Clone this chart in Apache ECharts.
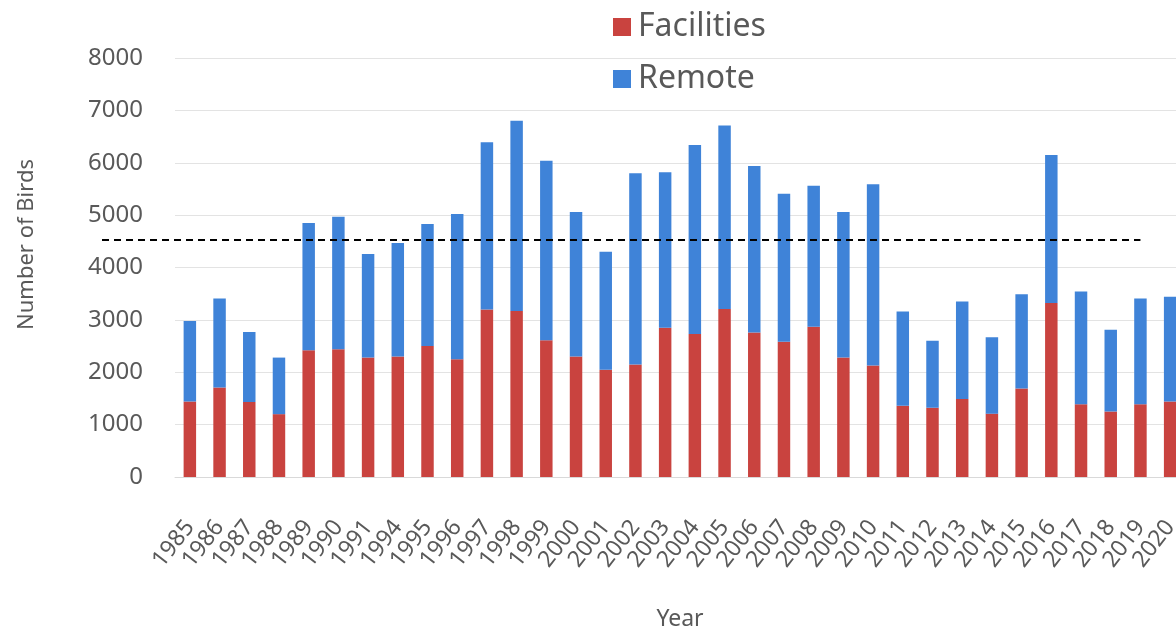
<!DOCTYPE html>
<html>
<head>
<meta charset="utf-8">
<script src="https://cdn.jsdelivr.net/npm/echarts@6/dist/echarts.min.js"></script>
<style>
html,body{margin:0;padding:0;background:#fff;}
#chart{width:1176px;height:631px;}
</style>
</head>
<body>
<div id="chart"></div>
<script>
const years = ['1985','1986','1987','1988','1989','1990','1991','1994','1995','1996','1997','1998','1999','2000','2001','2002','2003','2004','2005','2006','2007','2008','2009','2010','2011','2012','2013','2014','2015','2016','2017','2018','2019','2020'];
const facilities = [1440,1710,1430,1200,2420,2440,2280,2300,2500,2250,3200,3170,2610,2300,2050,2150,2850,2730,3210,2760,2580,2870,2280,2130,1360,1320,1490,1210,1690,3320,1390,1250,1390,1440];
const remote = [1540,1700,1340,1080,2430,2530,1980,2170,2330,2770,3190,3630,3430,2760,2250,3650,2970,3610,3500,3180,2830,2690,2780,3460,1800,1280,1860,1460,1800,2830,2150,1560,2020,2000];
const yTicks = [0,1000,2000,3000,4000,5000,6000,7000,8000];
const averageLine = 4536;
const lineEndYear = '2019';

const font = 'Noto Sans';
const textColor = '#595959';
const chart = echarts.init(document.getElementById('chart'), null, {renderer:'canvas'});
chart.setOption({
  animation: false,
  backgroundColor: '#ffffff',
  textStyle: {fontFamily: font},
  legend: {
    orient: 'vertical',
    left: 608,
    top: 6,
    itemWidth: 18,
    itemHeight: 18,
    itemGap: 20,
    icon: 'rect',
    textStyle: {fontSize: 32, color: textColor, fontFamily: font, padding: [0,0,0,2]},
    data: ['Facilities','Remote']
  },
  grid: {left: 175, right: -9, top: 58, bottom: 154, containLabel: false, outerBoundsMode: 'none'},
  xAxis: {
    type: 'category',
    data: years,
    name: 'Year',
    nameLocation: 'middle',
    nameGap: 131,
    nameTextStyle: {fontSize: 23, color: textColor, fontFamily: font},
    axisLine: {show: true, lineStyle: {color: '#d9d9d9', width: 1}},
    axisTick: {show: false},
    axisLabel: {rotate: 52, fontSize: 23, color: textColor, fontFamily: font, margin: 46, interval: 0}
  },
  yAxis: {
    type: 'value',
    min: yTicks[0],
    max: yTicks[yTicks.length-1],
    interval: 1000,
    name: 'Number of Birds',
    nameLocation: 'middle',
    nameGap: 137,
    nameRotate: 90,
    nameTextStyle: {fontSize: 22, color: textColor, fontFamily: font, padding: [0,0,0,46]},
    axisLine: {show: false},
    axisTick: {show: false},
    axisLabel: {fontSize: 24, color: textColor, fontFamily: font, margin: 32, formatter: function(v){ return String(v); }},
    splitLine: {lineStyle: {color: '#e3e3e3', width: 1}}
  },
  series: [
    {
      name: 'Facilities',
      type: 'bar',
      stack: 'total',
      barWidth: '42%',
      data: facilities,
      itemStyle: {color: '#c9433f'},
      markLine: {
        silent: true,
        symbol: 'none',
        label: {show: false},
        lineStyle: {color: '#000000', type: [7, 5], width: 2},
        data: [[{x: 102, yAxis: averageLine}, {xAxis: lineEndYear, yAxis: averageLine}]]
      }
    },
    {
      name: 'Remote',
      type: 'bar',
      stack: 'total',
      barWidth: '42%',
      data: remote,
      itemStyle: {color: '#3f83d8'}
    }
  ]
});
</script>
</body>
</html>
